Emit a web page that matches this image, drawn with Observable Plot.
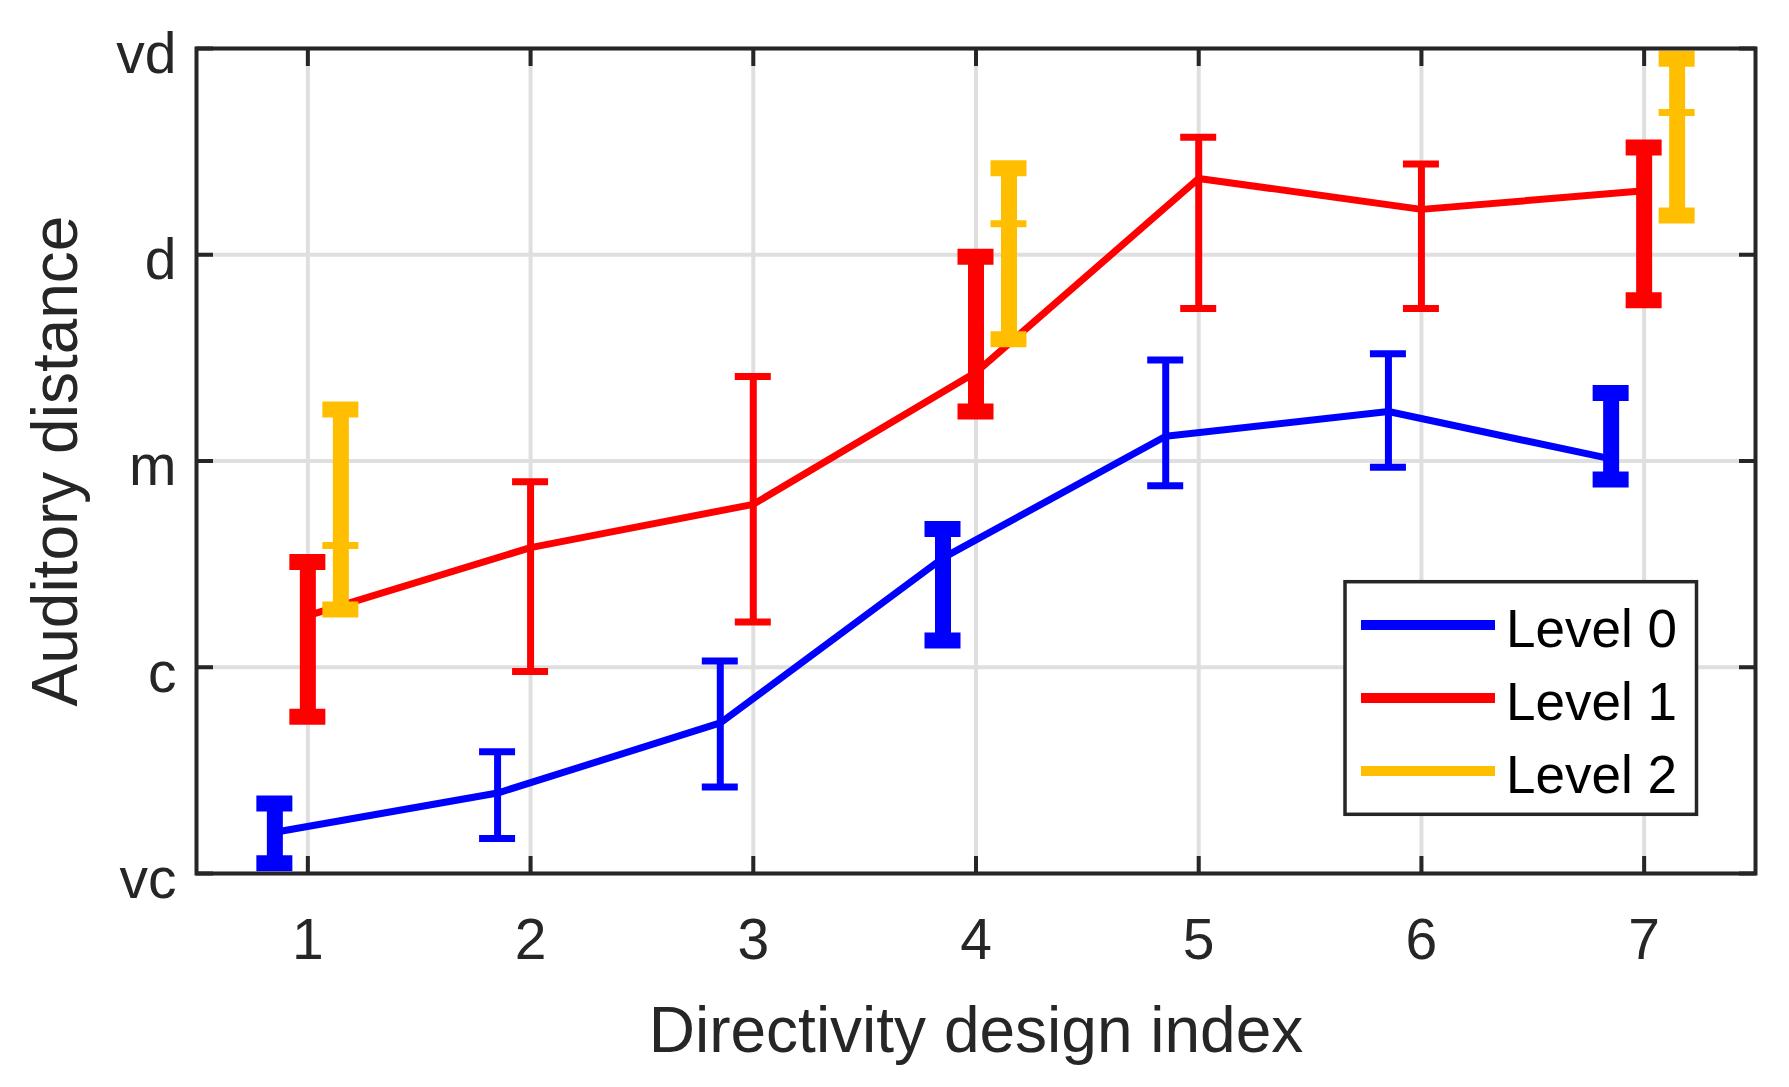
<!DOCTYPE html>
<html>
<head>
<meta charset="utf-8">
<script src="https://cdn.jsdelivr.net/npm/d3@7"></script>
<script src="https://cdn.jsdelivr.net/npm/@observablehq/plot@0.6"></script>
<style>
  html, body { margin: 0; padding: 0; background: #fff; }
  #chart { position: relative; width: 1789px; height: 1087px; }
</style>
</head>
<body>
<div id="chart"></div>
<script>
// ---- data ----
const designs = [1, 2, 3, 4, 5, 6, 7];

const level0Mean = [1.20, 1.39, 1.73, 2.53, 3.12, 3.24, 3.01];
const level0Low  = [1.05, 1.17, 1.42, 2.13, 2.88, 2.97, 2.91];
const level0High = [1.34, 1.59, 2.03, 2.67, 3.49, 3.52, 3.33];

const level1Mean = [2.25, 2.58, 2.79, 3.43, 4.37, 4.22, 4.31];
const level1Low  = [1.76, 1.98, 2.22, 3.24, 3.74, 3.74, 3.78];
const level1High = [2.51, 2.90, 3.41, 3.99, 4.57, 4.44, 4.52];

const level2Designs = [1, 4, 7];
const level2Mean = [2.59, 4.15, 4.69];
const level2Low  = [2.28, 3.59, 4.19];
const level2High = [3.25, 4.42, 4.95];

// designs drawn with emphasised (thick) error bars
const emphasized = [1, 4, 7];

const yTicks = [1, 2, 3, 4, 5];
const yTickLabels = ["vc", "c", "m", "d", "vd"];
const xTicks = designs;
const seriesNames = ["Level 0", "Level 1", "Level 2"];
const seriesColors = ["#0000ff", "#ff0000", "#ffbf00"];

// ---- build tables ----
function rows(x, mean, low, high) {
  return x.map((d, i) => ({design: d, mean: mean[i], low: low[i], high: high[i], thick: emphasized.includes(d)}));
}
const level0 = rows(designs, level0Mean, level0Low, level0High);
const level1 = rows(designs, level1Mean, level1Low, level1High);
const level2 = rows(level2Designs, level2Mean, level2Low, level2High);

const CAP = -18;      // negative inset => cap half-width in px
const OFF = 33;       // horizontal group offset in px
const axisColor = "#262626";

function errorBars(data, color, dx) {
  const thin = data.filter(d => !d.thick);
  const thick = data.filter(d => d.thick);
  const out = [];
  for (const [subset, w] of [[thin, 7], [thick, 16]]) {
    if (!subset.length) continue;
    out.push(Plot.ruleX(subset, {x: "design", y1: "low", y2: "high", stroke: color, strokeWidth: w, dx}));
    out.push(Plot.ruleY(subset, {x1: "design", x2: "design", y: "low", stroke: color, strokeWidth: w, dx, insetLeft: CAP, insetRight: CAP}));
    out.push(Plot.ruleY(subset, {x1: "design", x2: "design", y: "high", stroke: color, strokeWidth: w, dx, insetLeft: CAP, insetRight: CAP}));
  }
  return out;
}

const tickAxis = {tickSize: -17, tickFormat: () => "", stroke: axisColor, strokeWidth: 4, label: null, fill: "none"};

const plot = Plot.plot({
  width: 1789,
  height: 1087,
  marginLeft: 196,
  marginRight: 34,
  marginTop: 48,
  marginBottom: 214,
  style: {fontFamily: "'Liberation Sans', Arial, Helvetica, sans-serif", background: "#fff", color: axisColor},
  x: {domain: [0.5, 7.5]},
  y: {domain: [1, 5]},
  marks: [
    Plot.gridX({ticks: xTicks, stroke: "#dfdfdf", strokeOpacity: 1, strokeWidth: 4}),
    Plot.gridY({ticks: yTicks, stroke: "#dfdfdf", strokeOpacity: 1, strokeWidth: 4}),

    // Level 0
    Plot.line(level0, {x: "design", y: "mean", stroke: seriesColors[0], strokeWidth: 7, dx: -OFF}),
    ...errorBars(level0, seriesColors[0], -OFF),
    // Level 1
    Plot.line(level1, {x: "design", y: "mean", stroke: seriesColors[1], strokeWidth: 7}),
    ...errorBars(level1, seriesColors[1], 0),
    // Level 2 (no connecting line, mean marked by a thin tick)
    ...errorBars(level2.map(d => ({...d, thick: true})), seriesColors[2], OFF),
    Plot.ruleY(level2, {x1: "design", x2: "design", y: "mean", stroke: seriesColors[2], strokeWidth: 7, dx: OFF, insetLeft: CAP, insetRight: CAP}),

    Plot.frame({stroke: axisColor, strokeWidth: 4}),

    // inward ticks on all four sides
    Plot.axisY({...tickAxis, anchor: "left", ticks: yTicks}),
    Plot.axisY({...tickAxis, anchor: "right", ticks: yTicks}),
    Plot.axisX({...tickAxis, anchor: "bottom", ticks: xTicks}),
    Plot.axisX({...tickAxis, anchor: "top", ticks: xTicks}),

    // tick labels
    Plot.axisY({anchor: "left", ticks: yTicks, tickFormat: d => yTickLabels[d - 1], tickSize: 0, tickPadding: 20, fontSize: 57, dy: 6, fill: axisColor, label: null}),
    Plot.axisX({anchor: "bottom", ticks: xTicks, tickFormat: d => String(d), tickSize: 0, tickPadding: 45, fontSize: 57, fill: axisColor, label: null}),

    // axis titles
    Plot.axisY({anchor: "left", ticks: yTicks, tickFormat: () => "", tickSize: 0, fontSize: 64, fill: axisColor,
      label: "Auditory distance", labelAnchor: "center", labelOffset: 165, labelArrow: "none"}),
    Plot.axisX({anchor: "bottom", ticks: xTicks, tickFormat: () => "", tickSize: 0, fontSize: 64, fill: axisColor,
      label: "Directivity design index", labelAnchor: "center", labelOffset: 178, labelArrow: "none"})
  ]
});

document.getElementById("chart").appendChild(plot);

// ---- legend (inside the axes, lower-right) ----
const svg = d3.select(plot);
const lg = svg.append("g").attr("class", "legend");
lg.append("rect")
  .attr("x", 1345).attr("y", 581.7).attr("width", 351.5).attr("height", 232.6)
  .attr("fill", "#fff").attr("stroke", axisColor).attr("stroke-width", 3.5);
seriesNames.forEach((name, i) => {
  const cy = 625 + i * 73;
  lg.append("line")
    .attr("x1", 1361).attr("x2", 1495).attr("y1", cy).attr("y2", cy)
    .attr("stroke", seriesColors[i]).attr("stroke-width", 10);
  lg.append("text")
    .attr("x", 1506).attr("y", cy + 22.3)
    .attr("text-anchor", "start")
    .attr("font-size", 53).attr("fill", "#000")
    .attr("font-family", "'Liberation Sans', Arial, Helvetica, sans-serif")
    .text(name);
});
</script>
</body>
</html>
